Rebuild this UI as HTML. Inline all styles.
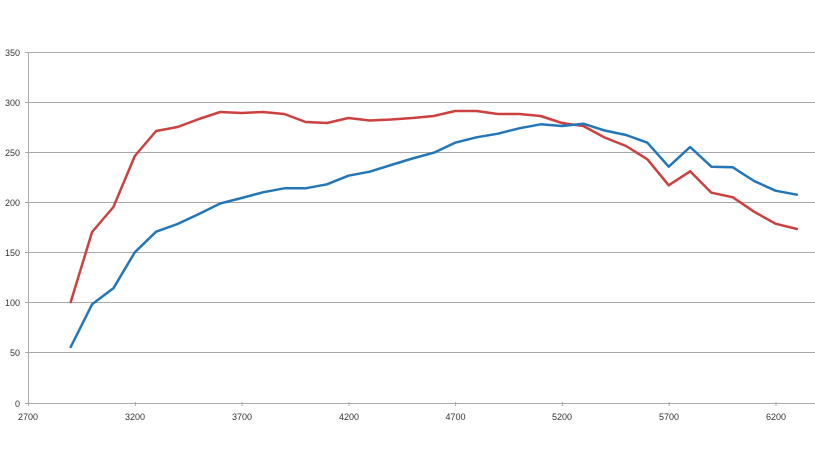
<!DOCTYPE html>
<html>
<head>
<meta charset="utf-8">
<style>
html,body{margin:0;padding:0;background:#fff;}
svg{display:block;}
text{font-family:"Liberation Sans",sans-serif;font-size:9px;fill:#333;}
</style>
</head>
<body>
<svg width="815" height="458" viewBox="0 0 815 458" xmlns="http://www.w3.org/2000/svg">
<rect width="815" height="458" fill="#fff"/>
<g stroke="#a9a9a9" stroke-width="1" fill="none">
<line x1="25" y1="52.5" x2="815" y2="52.5"/>
<line x1="25" y1="102.5" x2="815" y2="102.5"/>
<line x1="25" y1="152.5" x2="815" y2="152.5"/>
<line x1="25" y1="202.5" x2="815" y2="202.5"/>
<line x1="25" y1="252.5" x2="815" y2="252.5"/>
<line x1="25" y1="302.5" x2="815" y2="302.5"/>
<line x1="25" y1="352.5" x2="815" y2="352.5"/>
<line x1="25" y1="403.5" x2="815" y2="403.5"/>
<line x1="28.5" y1="52" x2="28.5" y2="404"/>
<line x1="28.5" y1="402" x2="28.5" y2="406"/>
<line x1="135.3" y1="402" x2="135.3" y2="406"/>
<line x1="242.1" y1="402" x2="242.1" y2="406"/>
<line x1="348.9" y1="402" x2="348.9" y2="406"/>
<line x1="455.6" y1="402" x2="455.6" y2="406"/>
<line x1="562.4" y1="402" x2="562.4" y2="406"/>
<line x1="669.2" y1="402" x2="669.2" y2="406"/>
<line x1="776" y1="402" x2="776" y2="406"/>
</g>
<g text-anchor="end">
<text x="20" y="56">350</text>
<text x="20" y="106">300</text>
<text x="20" y="156">250</text>
<text x="20" y="206">200</text>
<text x="20" y="256">150</text>
<text x="20" y="306">100</text>
<text x="20" y="356">50</text>
<text x="20" y="407">0</text>
</g>
<g text-anchor="middle">
<text x="28" y="420">2700</text>
<text x="135" y="420">3200</text>
<text x="242" y="420">3700</text>
<text x="349" y="420">4200</text>
<text x="455.5" y="420">4700</text>
<text x="562" y="420">5200</text>
<text x="669" y="420">5700</text>
<text x="776" y="420">6200</text>
</g>
<polyline fill="none" stroke="#cd4040" stroke-width="2.5" stroke-linejoin="round" stroke-linecap="round"
points="70.7,302 92.1,232 113.4,207 134.8,156 156.1,131 177.5,127 198.9,119 220.2,112 241.6,113 262.9,112 284.3,114 305.6,122 327,123 348.4,118 369.7,120.5 391.1,119.5 412.4,118 433.8,116 455.1,111 476.5,111 497.9,114 519.2,114 540.6,116 561.9,123 583.3,126 604.6,137.5 626,146 647.4,159.3 668.7,185.3 690.1,171.3 711.4,192.7 732.8,197.3 754.1,211.7 775.5,223.7 796.9,229"/>
<polyline fill="none" stroke="#2376b7" stroke-width="2.5" stroke-linejoin="round" stroke-linecap="round"
points="70.7,347 92.1,304.3 113.4,288.3 134.8,252.3 156.1,231.7 177.5,224 198.9,214 220.2,203.5 241.6,198 262.9,192.3 284.3,188.3 305.6,188.3 327,184.3 348.4,175.7 369.7,171.7 391.1,165 412.4,158.5 433.8,152.7 455.1,142.7 476.5,137.3 497.9,133.7 519.2,128.3 540.6,124.3 561.9,126 583.3,123.7 604.6,130.5 626,135 647.4,142.7 668.7,166.7 690.1,147 711.4,166.7 732.8,167.3 754.1,181 775.5,190.7 796.9,194.7"/>
</svg>
</body>
</html>
